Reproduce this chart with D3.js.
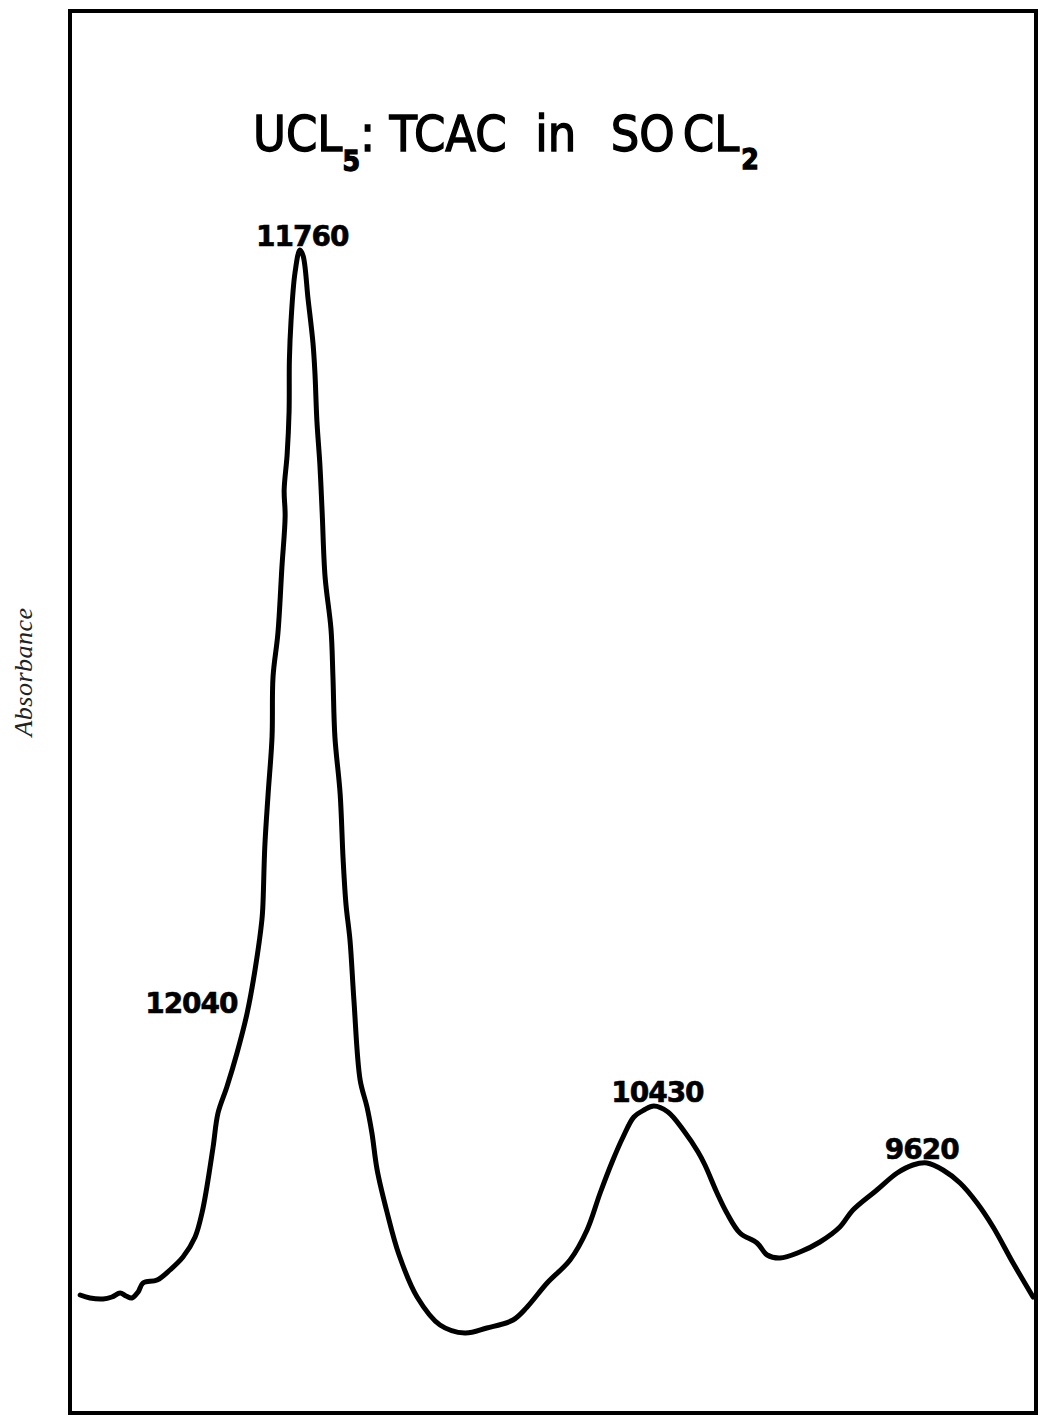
<!DOCTYPE html>
<html>
<head>
<meta charset="utf-8">
<script src="https://cdn.jsdelivr.net/npm/d3@7"></script>
<style>
  body { margin: 0; background: #fff; }
  text { white-space: pre; }
</style>
</head>
<body>
<div id="my_dataviz"></div>
<script>
// spectrum trace: wavelength (nm) and absorbance (arbitrary units)
var wavelength = [783.1, 786.1, 790.1, 792.8, 795.3, 797.1, 798.9, 800.8, 802.3, 806.6,
  810.5, 814.5, 818.2, 820.3, 821.8, 823.7, 825.2, 827.9, 831.0, 834.1,
  836.5, 838.6, 838.9, 839.5, 840.5, 841.7, 842.0, 843.5, 844.7, 845.7,
  845.4, 846.3, 846.9, 847.0, 847.5, 848.7, 850.2, 851.2, 852.7, 854.2,
  854.8, 855.4, 856.3, 857.0, 857.9, 859.7, 860.3, 860.9, 862.5, 863.4,
  864.3, 865.5, 866.7, 868.6, 870.7, 872.2, 873.8, 876.8, 880.5, 886.0,
  893.0, 900.6, 907.3, 915.3, 919.6, 925.7, 932.7, 937.9, 941.9, 945.8,
  948.9, 952.2, 955.3, 958.3, 962.6, 967.5, 971.8, 973.9, 977.6, 980.6,
  984.6, 989.8, 992.9, 996.8, 1002.9, 1009.0, 1015.1, 1019.1, 1026.4, 1032.6,
  1037.4, 1041.7, 1046.6, 1051.8, 1057.0, 1061.9, 1068.0, 1074.1];

var absorbance = [0.118, 0.115, 0.114, 0.116, 0.120, 0.117, 0.115, 0.121, 0.130, 0.133,
  0.143, 0.156, 0.176, 0.200, 0.226, 0.266, 0.300, 0.326, 0.360, 0.400,
  0.443, 0.493, 0.507, 0.567, 0.619, 0.676, 0.736, 0.780, 0.845, 0.897,
  0.923, 0.958, 1.001, 1.053, 1.092, 1.140, 1.163, 1.157, 1.114, 1.070,
  1.040, 0.992, 0.949, 0.901, 0.836, 0.784, 0.736, 0.676, 0.619, 0.554,
  0.508, 0.473, 0.413, 0.333, 0.306, 0.280, 0.243, 0.201, 0.158, 0.116,
  0.088, 0.080, 0.085, 0.093, 0.106, 0.130, 0.153, 0.183, 0.220, 0.253,
  0.276, 0.296, 0.303, 0.307, 0.301, 0.282, 0.261, 0.248, 0.220, 0.200,
  0.180, 0.170, 0.158, 0.155, 0.161, 0.171, 0.186, 0.203, 0.223, 0.240,
  0.248, 0.250, 0.243, 0.230, 0.210, 0.186, 0.150, 0.116];

// marked bands, cm-1, and the absorbance where each label sits
var peakWavenumber = [11760, 12040, 10430, 9620];
var peakAbsorbance = [1.163, 0.400, 0.307, 0.250];

var yLabel = "Absorbance";

// set the dimensions and margins of the graph
var margin = {top: 11, right: 4, bottom: 6, left: 70},
    width = 1040 - margin.left - margin.right,
    height = 1419 - margin.top - margin.bottom;

var svg = d3.select("#my_dataviz")
  .append("svg")
    .attr("width", 1040)
    .attr("height", 1419)
  .append("g")
    .attr("transform", "translate(" + margin.left + "," + margin.top + ")");

var xScale = d3.scaleLinear()
  .domain([780, 1075])
  .range([0, width]);

var yScale = d3.scaleLinear()
  .domain([0, 1.4])
  .range([height, height - 1400]);

// frame
svg.append("rect")
  .attr("x", 0)
  .attr("y", 0)
  .attr("width", width)
  .attr("height", height)
  .attr("fill", "none")
  .attr("stroke", "#000")
  .attr("stroke-width", 4);

// the curve
var pts = wavelength.map(function(w, i) { return {w: w, a: absorbance[i]}; });

svg.append("path")
  .datum(pts)
  .attr("fill", "none")
  .attr("stroke", "#000")
  .attr("stroke-width", 5)
  .attr("stroke-linejoin", "round")
  .attr("stroke-linecap", "round")
  .attr("d", d3.line()
    .curve(d3.curveCatmullRom.alpha(0.5))
    .x(function(d) { return xScale(d.w); })
    .y(function(d) { return yScale(d.a); }));

// peak labels
var peaks = peakWavenumber.map(function(k, i) {
  return {k: k, w: 1e7 / k, a: peakAbsorbance[i]};
});

svg.selectAll(".peakLabel")
  .data(peaks)
  .enter()
  .append("text")
    .attr("class", "peakLabel")
    .attr("x", function(d) { return xScale(d.w) + 2; })
    .attr("y", function(d) { return yScale(d.a) - (d.k == 12040 ? 0 : 4); })
    .attr("text-anchor", function(d) { return d.k == 12040 ? "end" : "middle"; })
    .attr("font-family", "'DejaVu Sans', sans-serif")
    .attr("font-weight", "bold")
    .attr("font-size", 28)
    .attr("letter-spacing", -1)
    .attr("stroke", "#000")
    .attr("stroke-width", 0.6)
    .text(function(d) { return d.k; });

// title
var title = svg.append("text")
  .attr("x", 183)
  .attr("y", 140)
  .attr("font-family", "'DejaVu Sans Condensed', 'DejaVu Sans', sans-serif")
  .attr("font-size", 50)
  .attr("fill", "#000")
  .attr("stroke", "#000")
  .attr("stroke-width", 1.3);
title.append("tspan").text("UCL");
title.append("tspan").attr("font-size", 28).attr("font-weight", "bold").attr("dy", 20).text("5");
title.append("tspan").attr("dy", -20).text(": TCAC  in  ");
title.append("tspan").attr("dx", 6).text("SO");
title.append("tspan").attr("dx", 8).text("CL");
title.append("tspan").attr("font-size", 28).attr("font-weight", "bold").attr("dx", 2).attr("dy", 18).text("2");

// y axis label
svg.append("text")
  .attr("transform", "translate(" + (-38) + "," + 661 + ") rotate(-90)")
  .attr("text-anchor", "middle")
  .attr("font-family", "'Liberation Serif', serif")
  .attr("font-style", "italic")
  .attr("font-size", 26)
  .attr("letter-spacing", 0.5)
  .attr("fill", "#222")
  .text(yLabel);
</script>
</body>
</html>
